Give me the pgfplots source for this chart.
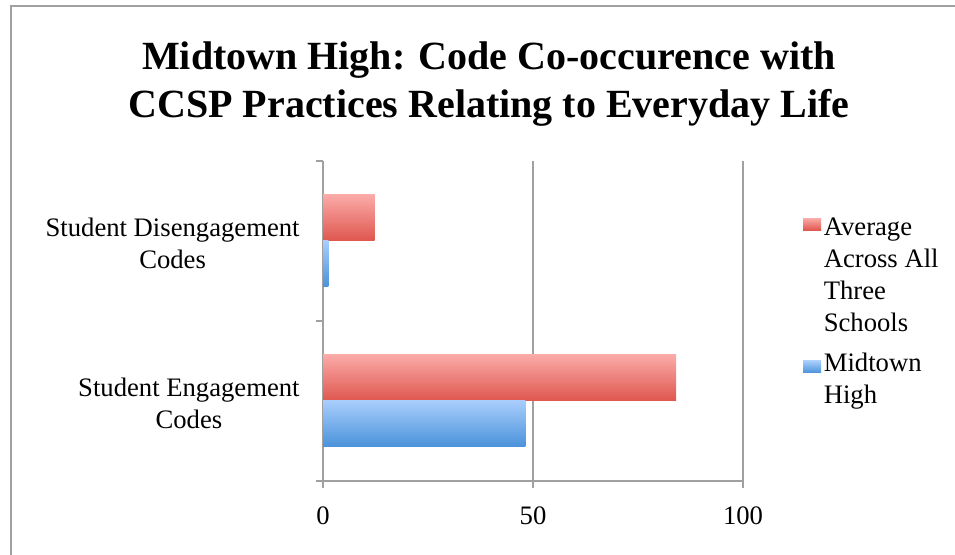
\documentclass[border=0pt]{standalone}
\usepackage{fontspec}
\setmainfont{Liberation Serif}
\usepackage{pgfplots}
\pgfplotsset{compat=1.18}
\definecolor{axgray}{HTML}{A0A0A0}
\definecolor{redtop}{HTML}{FBAAA8}
\definecolor{redbot}{HTML}{DF564E}
\definecolor{bluetop}{HTML}{A7CDFC}
\definecolor{bluebot}{HTML}{4A92DA}
\pgfplotsset{
  redleg/.style={legend image code/.code={\fill[##1] (-1pt,34pt) rectangle (12.5pt,43pt);}},
  blueleg/.style={legend image code/.code={\fill[##1] (-1pt,5pt) rectangle (12.5pt,14pt);}},
}
\begin{document}
\begin{tikzpicture}[x=0.75pt,y=0.75pt]
\useasboundingbox (0,0) rectangle (955,555);
\draw[axgray, line width=1.5pt] (10.5,0) -- (10.5,548.5) -- (960,548.5);
\begin{axis}[
  at={(242.25pt,55.5pt)}, anchor=south west,
  scale only axis, width=315pt, height=240pt,
  xbar, bar width=0.2875,
  xmin=0, xmax=100, ymin=-0.5, ymax=1.5,
  axis x line*=bottom, axis y line*=left,
  axis line style={axgray, line width=1.5pt},
  xmajorgrids, grid style={axgray, line width=1.5pt},
  xtick={0,50,100}, minor xtick={0,50,100},
  ytick={0,1}, minor ytick={-0.5,0.5,1.5},
  yticklabels={Student Engagement\\Codes, Student Disengagement\\Codes},
  tick align=outside, major tick length=0pt, minor tick length=5.25pt,
  minor tick style={axgray, line width=1.5pt},
  /pgf/number format/assume math mode=true,
  xticklabel style={font=\fontsize{20}{24}\selectfont, yshift=-16pt},
  yticklabel style={font=\fontsize{20}{24}\selectfont, align=center, xshift=-14pt, yshift=-2pt},
  legend cell align=left,
  legend style={at={(1.133,0.84)}, anchor=north west, draw=none, fill=none,
    font=\fontsize{20}{24}\selectfont, cells={align=left}, row sep=11pt},
]
\addplot[redleg, draw=none, top color=redtop, bottom color=redbot, bar shift=0.14375]
  coordinates {(84.1,0)};
\addlegendentry{Average\\Across All\\Three\\Schools}
\addplot[blueleg, draw=none, top color=bluetop, bottom color=bluebot, bar shift=-0.14375]
  coordinates {(48.2,0)};
\addlegendentry{Midtown\\High}
\addplot[forget plot, draw=none, top color=redtop, bottom color=redbot, bar shift=0.14375]
  coordinates {(12.3,1)};
\addplot[forget plot, draw=none, top color=bluetop, bottom color=bluebot, bar shift=-0.14375]
  coordinates {(1.3,1)};
\end{axis}
\node[font=\bfseries\fontsize{30}{36}\selectfont, align=center] at (489,471)
  {Midtown High: Code Co-occurence with\\CCSP Practices Relating to Everyday Life};
\end{tikzpicture}
\end{document}
